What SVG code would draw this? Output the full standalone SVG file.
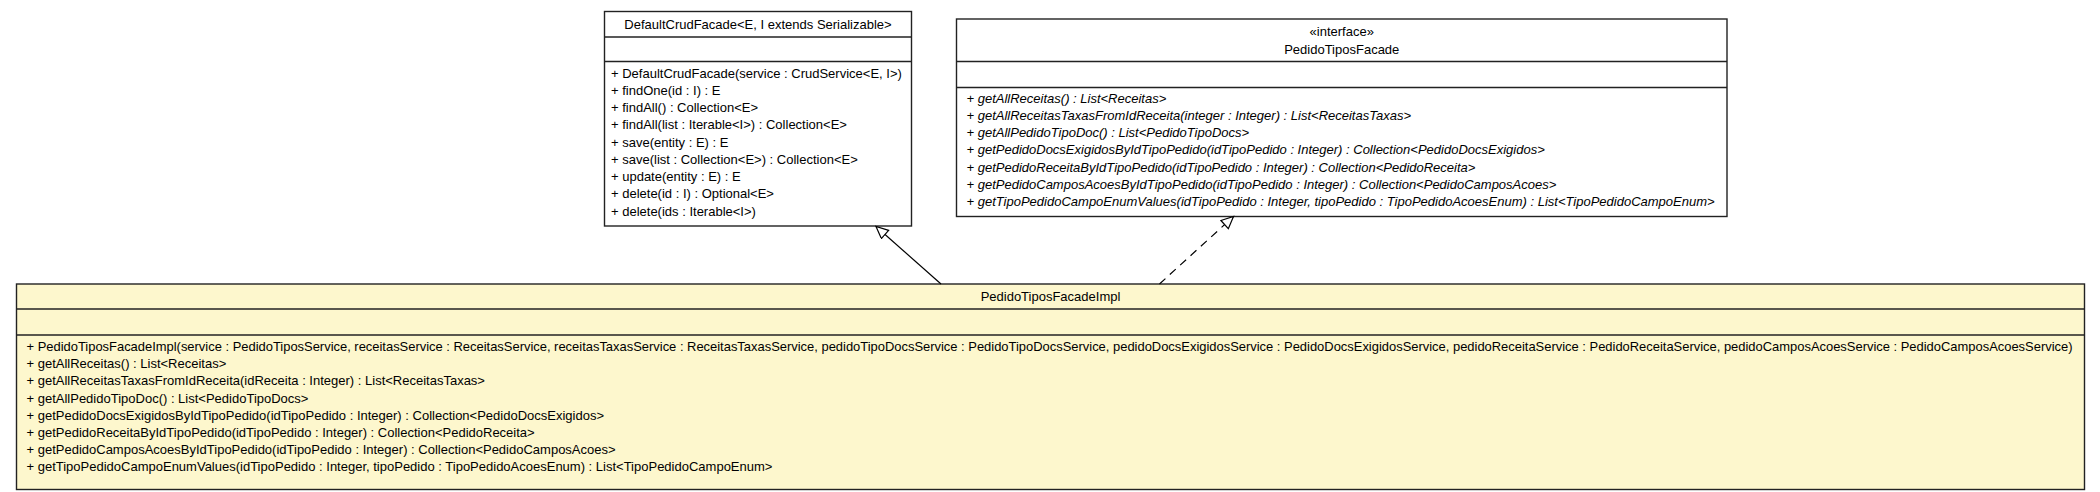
<svg xmlns="http://www.w3.org/2000/svg" width="2100" height="492" viewBox="0 0 2100 492">
<style>
text{font-family:"Liberation Sans",Arial,sans-serif;font-size:13px;fill:#000}
.c{text-anchor:middle}
.i{font-style:italic}
.box{stroke:#222;stroke-width:1.4;fill:#fff}
.impl{fill:#fdf7cd}
.sep{stroke:#222;stroke-width:1.4}
.edge{stroke:#000;stroke-width:1.2;fill:none}
.dash{stroke-dasharray:8 6}
</style>
<defs>
<marker id="tri" markerUnits="userSpaceOnUse" markerWidth="16" markerHeight="16" refX="13" refY="6" orient="auto">
<path d="M1,0.5 L13,6 L1,11.5 Z" fill="#fff" stroke="#000" stroke-width="1.2"/>
</marker>
</defs>
<rect width="2100" height="492" fill="#fff"/>
<g id="DefaultCrudFacade">
<rect class="box" x="604.5" y="11.5" width="307" height="214.5"/>
<line class="sep" x1="604.5" y1="37" x2="911.5" y2="37"/>
<line class="sep" x1="604.5" y1="61.5" x2="911.5" y2="61.5"/>
<text class="c" x="758" y="28.5">DefaultCrudFacade&lt;E, I extends Serializable&gt;</text>
<text x="611" y="77.5">+ DefaultCrudFacade(service : CrudService&lt;E, I&gt;)</text>
<text x="611" y="94.75">+ findOne(id : I) : E</text>
<text x="611" y="112">+ findAll() : Collection&lt;E&gt;</text>
<text x="611" y="129.25">+ findAll(list : Iterable&lt;I&gt;) : Collection&lt;E&gt;</text>
<text x="611" y="146.5">+ save(entity : E) : E</text>
<text x="611" y="163.75">+ save(list : Collection&lt;E&gt;) : Collection&lt;E&gt;</text>
<text x="611" y="181">+ update(entity : E) : E</text>
<text x="611" y="198.25">+ delete(id : I) : Optional&lt;E&gt;</text>
<text x="611" y="215.5">+ delete(ids : Iterable&lt;I&gt;)</text>
</g>
<g id="PedidoTiposFacade">
<rect class="box" x="956.5" y="19" width="770.5" height="197.5"/>
<line class="sep" x1="956.5" y1="61.5" x2="1727" y2="61.5"/>
<line class="sep" x1="956.5" y1="87.5" x2="1727" y2="87.5"/>
<text class="c" x="1341.75" y="35.5">«interface»</text>
<text class="c" x="1341.75" y="53.5">PedidoTiposFacade</text>
<text class="i" x="966.5" y="102.5">+ getAllReceitas() : List&lt;Receitas&gt;</text>
<text class="i" x="966.5" y="119.75">+ getAllReceitasTaxasFromIdReceita(integer : Integer) : List&lt;ReceitasTaxas&gt;</text>
<text class="i" x="966.5" y="137">+ getAllPedidoTipoDoc() : List&lt;PedidoTipoDocs&gt;</text>
<text class="i" x="966.5" y="154.25">+ getPedidoDocsExigidosByIdTipoPedido(idTipoPedido : Integer) : Collection&lt;PedidoDocsExigidos&gt;</text>
<text class="i" x="966.5" y="171.5">+ getPedidoReceitaByIdTipoPedido(idTipoPedido : Integer) : Collection&lt;PedidoReceita&gt;</text>
<text class="i" x="966.5" y="188.75">+ getPedidoCamposAcoesByIdTipoPedido(idTipoPedido : Integer) : Collection&lt;PedidoCamposAcoes&gt;</text>
<text class="i" x="966.5" y="206">+ getTipoPedidoCampoEnumValues(idTipoPedido : Integer, tipoPedido : TipoPedidoAcoesEnum) : List&lt;TipoPedidoCampoEnum&gt;</text>
</g>
<g id="PedidoTiposFacadeImpl">
<rect class="box impl" x="16.5" y="284" width="2068" height="205.5"/>
<line class="sep" x1="16.5" y1="309" x2="2084.5" y2="309"/>
<line class="sep" x1="16.5" y1="335" x2="2084.5" y2="335"/>
<text class="c" x="1050.5" y="301">PedidoTiposFacadeImpl</text>
<text x="26.5" y="351" textLength="2046" lengthAdjust="spacingAndGlyphs">+ PedidoTiposFacadeImpl(service : PedidoTiposService, receitasService : ReceitasService, receitasTaxasService : ReceitasTaxasService, pedidoTipoDocsService : PedidoTipoDocsService, pedidoDocsExigidosService : PedidoDocsExigidosService, pedidoReceitaService : PedidoReceitaService, pedidoCamposAcoesService : PedidoCamposAcoesService)</text>
<text x="26.5" y="368.2">+ getAllReceitas() : List&lt;Receitas&gt;</text>
<text x="26.5" y="385.4">+ getAllReceitasTaxasFromIdReceita(idReceita : Integer) : List&lt;ReceitasTaxas&gt;</text>
<text x="26.5" y="402.6">+ getAllPedidoTipoDoc() : List&lt;PedidoTipoDocs&gt;</text>
<text x="26.5" y="419.8">+ getPedidoDocsExigidosByIdTipoPedido(idTipoPedido : Integer) : Collection&lt;PedidoDocsExigidos&gt;</text>
<text x="26.5" y="437">+ getPedidoReceitaByIdTipoPedido(idTipoPedido : Integer) : Collection&lt;PedidoReceita&gt;</text>
<text x="26.5" y="454.2">+ getPedidoCamposAcoesByIdTipoPedido(idTipoPedido : Integer) : Collection&lt;PedidoCamposAcoes&gt;</text>
<text x="26.5" y="471.4">+ getTipoPedidoCampoEnumValues(idTipoPedido : Integer, tipoPedido : TipoPedidoAcoesEnum) : List&lt;TipoPedidoCampoEnum&gt;</text>
</g>
<g id="connectors">
<line class="edge" x1="941" y1="284" x2="876" y2="226.5" marker-end="url(#tri)"/>
<line class="edge dash" x1="1159.5" y1="284" x2="1233.5" y2="216.5" marker-end="url(#tri)"/>
</g>
</svg>
